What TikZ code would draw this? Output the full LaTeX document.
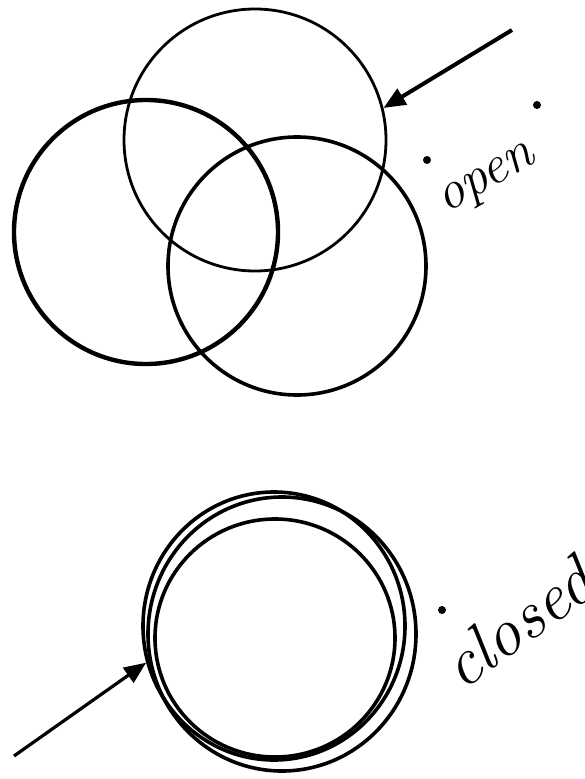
\documentclass[tikz,border=0pt]{standalone}
\usetikzlibrary{arrows.meta,shapes.geometric}
\begin{document}
\begin{tikzpicture}[x=1pt,y=-1pt,>={Triangle[length=22pt,width=18pt]},
    ring/.style={draw, circle, line width=#1, inner sep=0pt},
    loop/.style={draw, ellipse, line width=3.6pt, inner sep=0pt},
    speck/.style={fill, circle, inner sep=0pt, minimum size=8pt},
    hand/.style={font=\fontsize{#1}{#1}\selectfont\itshape, inner sep=0pt}]
    \useasboundingbox (0,0) rectangle (585,779);

    % otevřené - tři kružnice
    \node[ring=2.8pt, minimum size=262pt] (top) at (255,140) {};
    \node[ring=4.4pt, minimum size=264pt] (left) at (146,232) {};
    \node[ring=3.6pt, minimum size=258pt] (right) at (297,266) {};

    % uzavřené - smyčky
    \node[loop, minimum width=262pt, minimum height=268pt] (outer) at (274,626) {};
    \node[loop, minimum width=268pt, minimum height=274pt] (mid) at (282,634) {};
    \node[loop, minimum width=240pt, minimum height=238pt] (inner) at (275,638) {};

    % šipky
    \coordinate (from1) at (512,30);
    \coordinate (from2) at (14,756);
    \draw[->, line width=4pt] (from1) -- (top.14);
    \draw[->, line width=3.2pt] (from2) -- (outer.196);

    % popisky
    \node[hand=54, rotate=30, anchor=base west] (open) at (446,214) {open};
    \node[hand=68, rotate=36, anchor=base west] (closed) at (462,692) {closed};
    \node[speck] (dot1) at (427,160) {};
    \node[speck] (dot2) at (537,105) {};
    \node[speck] (dot3) at (442,610) {};
\end{tikzpicture}
\end{document}
